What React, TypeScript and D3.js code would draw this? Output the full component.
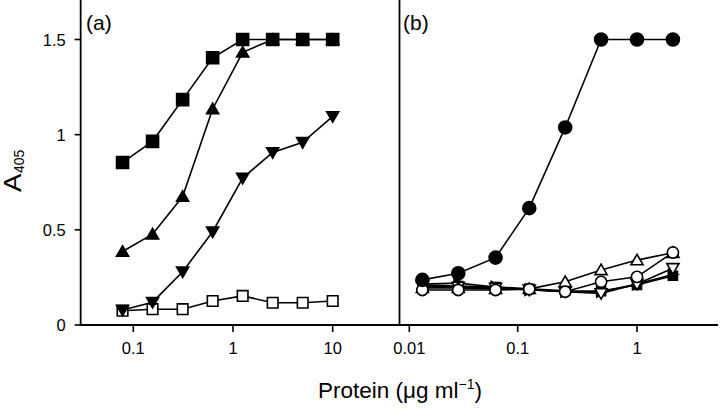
import React from "react";
import * as d3 from "d3";

// ---- data ----
const xA = [0.078, 0.156, 0.3125, 0.625, 1.25, 2.5, 5, 10];
const aFilledSquare = [0.854, 0.965, 1.184, 1.404, 1.5, 1.5, 1.5, 1.5];
const aTriUp = [0.386, 0.477, 0.675, 1.135, 1.433, 1.5, 1.5, 1.5];
const aTriDown = [0.079, 0.12, 0.28, 0.49, 0.772, 0.907, 0.96, 1.096];
const aOpenSquare = [0.075, 0.083, 0.083, 0.126, 0.153, 0.117, 0.117, 0.126];

const xB = [0.0132, 0.0283, 0.0625, 0.125, 0.25, 0.5, 1, 2];
const bFilledSquare = [0.21, 0.205, 0.2, 0.19, 0.18, 0.178, 0.21, 0.259];
const bTriRight = [0.215, 0.22, 0.2, 0.185, 0.175, 0.175, 0.215, 0.265];
const bOpenTriDown = [0.205, 0.2, 0.195, 0.185, 0.175, 0.166, 0.215, 0.298];
const bOpenTriUp = [0.195, 0.195, 0.19, 0.19, 0.227, 0.289, 0.341, 0.38];
const bOpenCircle = [0.184, 0.184, 0.184, 0.188, 0.175, 0.227, 0.253, 0.381];
const bFilledCircle = [0.237, 0.272, 0.354, 0.614, 1.038, 1.5, 1.5, 1.5];

const yTicks = [0, 0.5, 1, 1.5];
const yTickLabels = ["0", "0.5", "1", "1.5"];
const xTicksA = [0.1, 1, 10];
const xTickLabelsA = ["0.1", "1", "10"];
const xTicksB = [0.01, 0.1, 1];
const xTickLabelsB = ["0.01", "0.1", "1"];

const FONT = "'Liberation Sans', Arial, Helvetica, sans-serif";

type Shape = "square" | "triUp" | "triDown" | "triRight" | "circle";

function markerPath(shape: Shape, cx: number, cy: number, s: number): string {
  switch (shape) {
    case "square":
      return `M${cx - s},${cy - s}h${2 * s}v${2 * s}h${-2 * s}Z`;
    case "triUp":
      return `M${cx},${cy - s * 1.05}L${cx + s * 1.1},${cy + s * 0.85}L${cx - s * 1.1},${cy + s * 0.85}Z`;
    case "triDown":
      return `M${cx},${cy + s * 1.05}L${cx + s * 1.1},${cy - s * 0.85}L${cx - s * 1.1},${cy - s * 0.85}Z`;
    case "triRight":
      return `M${cx + s * 1.05},${cy}L${cx - s * 0.85},${cy - s * 1.1}L${cx - s * 0.85},${cy + s * 1.1}Z`;
    case "circle":
    default:
      return `M${cx + s},${cy}A${s},${s} 0 1,1 ${cx - s},${cy}A${s},${s} 0 1,1 ${cx + s},${cy}Z`;
  }
}

export default function App() {
  const W = 720;
  const H = 408;
  const y = d3.scaleLinear().domain([0, 1.5]).range([325, 39.5]);
  const xa = d3.scaleLog().domain([0.1, 10]).range([133.3, 332.7]);
  const xbLin = d3.scaleLinear().domain([-2, -1, 0]).range([409.3, 517.7, 637]);
  const xb = (v: number) => xbLin(Math.log10(v));

  const axisA = xa(10 ** -1.528); // left y-axis position
  const axisB = 399.5;
  const xAxisY = y(0);

  const line = (xs: number[], ys: number[], xf: (v: number) => number) =>
    d3
      .line<number>()
      .x((_, i) => xf(xs[i]))
      .y((d) => y(d))(ys) || "";

  const seriesA: { ys: number[]; shape: Shape; fill: string; s: number }[] = [
    { ys: aOpenSquare, shape: "square", fill: "#fff", s: 5.3 },
    { ys: aTriDown, shape: "triDown", fill: "#000", s: 5.5 },
    { ys: aTriUp, shape: "triUp", fill: "#000", s: 5.5 },
    { ys: aFilledSquare, shape: "square", fill: "#000", s: 6 },
  ];
  const seriesB: { ys: number[]; shape: Shape; fill: string; s: number }[] = [
    { ys: bFilledSquare, shape: "square", fill: "#000", s: 4.5 },
    { ys: bTriRight, shape: "triRight", fill: "#000", s: 5 },
    { ys: bOpenTriDown, shape: "triDown", fill: "#fff", s: 5.5 },
    { ys: bOpenTriUp, shape: "triUp", fill: "#fff", s: 5.5 },
    { ys: bOpenCircle, shape: "circle", fill: "#fff", s: 5.6 },
    { ys: bFilledCircle, shape: "circle", fill: "#000", s: 6.5 },
  ];

  const renderSeries = (
    list: { ys: number[]; shape: Shape; fill: string; s: number }[],
    xs: number[],
    xf: (v: number) => number,
    key: string
  ) =>
    list.map((sr, si) => (
      <g key={`${key}${si}`}>
        <path d={line(xs, sr.ys, xf)} fill="none" stroke="#000" strokeWidth={1.6} />
        {sr.ys.map((v, i) => (
          <path
            key={i}
            d={markerPath(sr.shape, xf(xs[i]), y(v), sr.s)}
            fill={sr.fill}
            stroke="#000"
            strokeWidth={1.6}
          />
        ))}
      </g>
    ));

  return (
    <svg
      width={W}
      height={H}
      style={{ position: "absolute", left: 0, top: 0, background: "#fff" }}
      fontFamily={FONT}
    >
      <rect x={0} y={0} width={W} height={H} fill="#fff" />
      {/* axes */}
      <line x1={axisA} x2={axisA} y1={0} y2={xAxisY} stroke="#000" strokeWidth={1.8} />
      <line x1={axisB} x2={axisB} y1={0} y2={xAxisY} stroke="#000" strokeWidth={1.8} />
      <line x1={axisA - 0.9} x2={718} y1={xAxisY} y2={xAxisY} stroke="#000" strokeWidth={1.8} />
      {yTicks.map((t, i) => (
        <g key={`yt${i}`}>
          <line x1={axisA - 6} x2={axisA} y1={y(t)} y2={y(t)} stroke="#000" strokeWidth={1.6} />
          <text x={axisA - 15} y={y(t) + 6} textAnchor="end" fontSize={16.5} fill="#000">
            {yTickLabels[i]}
          </text>
        </g>
      ))}
      {xTicksA.map((t, i) => (
        <g key={`xa${i}`}>
          <line x1={xa(t)} x2={xa(t)} y1={xAxisY} y2={xAxisY + 7} stroke="#000" strokeWidth={1.6} />
          <text x={xa(t)} y={353.5} textAnchor="middle" fontSize={16.5} fill="#000">
            {xTickLabelsA[i]}
          </text>
        </g>
      ))}
      {xTicksB.map((t, i) => (
        <g key={`xb${i}`}>
          <line x1={xb(t)} x2={xb(t)} y1={xAxisY} y2={xAxisY + 7} stroke="#000" strokeWidth={1.6} />
          <text x={xb(t)} y={353.5} textAnchor="middle" fontSize={16.5} fill="#000">
            {xTickLabelsB[i]}
          </text>
        </g>
      ))}
      {/* panel labels */}
      <text x={86} y={30} fontSize={21} fill="#000">(a)</text>
      <text x={403} y={30} fontSize={21} fill="#000">(b)</text>
      {/* axis titles */}
      <text transform="translate(20.5,192) rotate(-90) scale(1.15,1)" fontSize={24} fill="#000">
        A
      </text>
      <text transform="translate(24,173) rotate(-90)" fontSize={14} fill="#000">
        405
      </text>
      <text x={400} y={398} textAnchor="middle" fontSize={22.5} fill="#000">
        Protein (μg ml
        <tspan fontSize={14} dy={-9}>−1</tspan>
        <tspan dy={9}>)</tspan>
      </text>
      {renderSeries(seriesA, xA, (v) => xa(v), "a")}
      {renderSeries(seriesB, xB, xb, "b")}
    </svg>
  );
}
